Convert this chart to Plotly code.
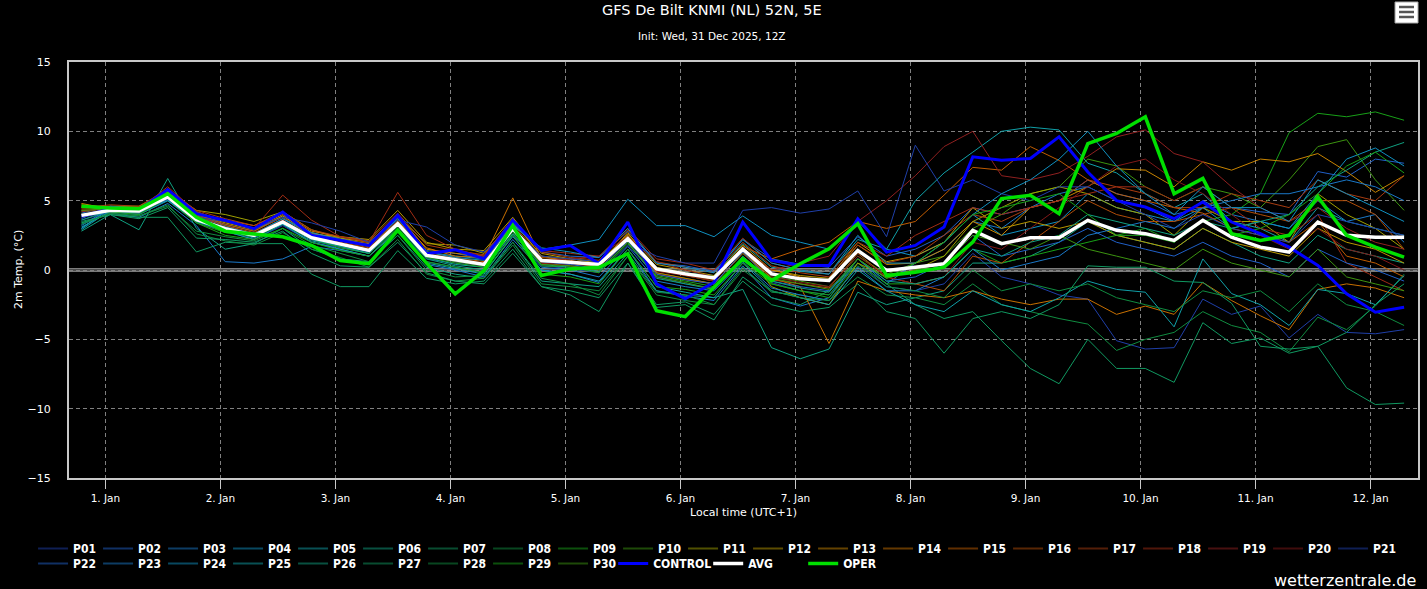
import pandas as pd
import plotly.graph_objects as go

# 6-hourly steps, local time (UTC+1), first step 31 Dec 19:00
TIMES = pd.date_range("2025-12-31 19:00", periods=47, freq="6h")

DAY_TICKS = ["2026-01-01", "2026-01-02", "2026-01-03", "2026-01-04", "2026-01-05", "2026-01-06",
             "2026-01-07", "2026-01-08", "2026-01-09", "2026-01-10", "2026-01-11", "2026-01-12"]
DAY_LABELS = ["1. Jan", "2. Jan", "3. Jan", "4. Jan", "5. Jan", "6. Jan",
              "7. Jan", "8. Jan", "9. Jan", "10. Jan", "11. Jan", "12. Jan"]

# ensemble members, 2m temperature (C)
P01 = [3.6,4.2,4.0,5.0,3.4,2.8,2.2,3.2,2.0,1.6,1.2,3.0,0.8, 0.5,0.2,2.6,0.3,0.1,-0.2,1.8,-0.5,-1.0,-1.3,0.9,-0.9,-1.5,-1.8,0.5,-1.2, -1.5,-1.0,1.2,-0.5,-1.0,-1.8,-2.1,-5.1,-5.7,-5.6,-2.1,-3.2,-2.6,-4.9,-3.2,-4.5,-4.6,-4.3]
P02 = [4.1,4.6,4.5,5.6,3.9,3.3,2.8,3.9,2.6,2.3,1.8,3.7,1.4, 1.2,0.8,3.4,1.3,1.0,0.9,2.8,0.5,0.3,-0.1,2.2,0.8,0.4,0.2,2.4,1.0, 1.5,2.5,4.5,4.0,4.5,5.0,6.5,5.5,5.0,4.0,4.5,4.5,4.2,4.0,7.1,6.7,8.0,7.7]
P03 = [3.3,4.1,3.8,4.8,3.2,0.6,0.5,0.8,1.7,1.4,1.0,2.8,0.4, 0.0,-0.5,2.2,0.0,-0.3,-0.9,1.5,-1.5,-1.9,-2.2,0.3,-2.0,-2.6,-2.0,0.8,-1.0, 0.5,1.5,3.5,3.0,4.5,5.5,6.0,5.0,4.5,3.5,5.0,4.0,3.5,3.0,5.0,3.5,4.0,2.0]
P04 = [3.0,4.4,4.2,5.2,3.8,3.2,2.6,3.7,2.5,2.1,1.7,3.5,1.3, 1.0,0.8,3.3,1.5,1.8,2.2,5.1,3.2,3.2,2.4,3.9,2.5,2.0,1.5,3.5,1.5, 1.0,2.0,4.0,2.5,3.0,3.5,5.5,4.5,4.0,3.5,4.5,3.0,3.5,3.0,5.5,8.0,8.8,7.5]
P05 = [2.9,4.3,4.1,5.1,3.5,2.9,2.3,3.4,2.1,1.7,1.2,3.2,0.9, 0.4,0.2,2.8,0.6,0.5,0.2,2.4,0.0,-0.2,-0.4,1.9,0.2,-0.1,-0.3,2.2,1.5, 5.0,7.0,8.5,10.0,10.3,10.1,7.7,7.0,5.5,4.5,5.5,3.5,3.0,2.0,4.5,3.5,3.0,2.5]
P06 = [2.8,4.0,2.9,6.6,3.0,1.5,1.9,3.0,1.5,0.8,0.6,2.5,0.2, -0.3,-0.6,2.0,-0.8,-1.0,-1.2,1.2,-1.5,-1.8,-2.0,-1.4,-5.6,-6.4,-5.7,-1.6,-2.5, -2.0,-1.5,0.5,0.5,1.0,2.0,3.5,2.5,2.0,1.5,3.0,2.0,1.0,0.5,2.5,1.5,1.0,0.5]
P07 = [3.5,4.0,3.8,3.8,1.3,2.0,1.9,1.9,-0.3,-1.2,-1.2,1.4,-0.6, -1.0,-0.8,1.5,-1.2,-1.5,-2.0,0.5,-2.7,-2.5,-3.6,-0.5,-2.0,-2.5,-1.5,0.5,-1.0, -2.5,-3.5,-3.0,-5.1,-7.1,-8.2,-5.0,-7.1,-7.1,-8.1,-3.8,-5.3,-4.9,-6.0,-5.5,-8.5,-9.7,-9.6]
P08 = [3.4,4.1,3.9,4.7,2.6,2.1,1.8,2.7,1.5,0.9,0.2,2.2,-0.3, -0.8,-0.6,1.8,-1.0,-1.2,-1.5,1.0,-1.8,-2.2,-2.5,0.2,-1.6,-1.8,-2.2,-0.5,-1.8, -2.0,-2.5,-1.0,-2.5,-3.0,-3.5,-3.9,-5.8,-5.0,-4.5,-3.0,-4.0,-4.5,-5.9,-3.4,-4.3,-2.6,-0.3]
P09 = [4.0,4.4,4.3,5.0,3.4,2.7,2.4,3.3,2.2,1.6,1.2,3.1,0.9, 0.5,0.2,2.7,0.3,0.2,-0.2,1.9,-0.4,-0.8,-1.2,0.9,-1.0,-1.5,-2.0,0.5,-1.0, -1.0,-0.5,1.5,0.5,1.0,1.5,2.0,2.5,3.0,2.0,3.5,4.0,5.5,9.9,11.3,11.05,11.4,10.8]
P10 = [4.2,4.5,4.4,5.4,3.7,3.1,2.6,3.5,2.4,1.9,1.5,3.4,1.1, 0.7,0.4,3.0,0.6,0.5,0.3,2.1,-0.2,-0.6,-1.0,1.2,-0.5,-0.8,-1.2,1.0,-0.3, 0.5,1.0,3.0,4.0,5.5,6.0,8.0,7.5,6.0,5.0,6.0,5.5,4.5,6.5,8.9,9.4,6.5,4.3]
P11 = [4.5,4.6,4.6,5.7,4.3,4.0,3.5,4.2,2.9,2.3,2.0,3.9,1.9, 1.8,1.2,3.5,1.0,0.8,0.6,2.5,0.2,-0.2,-0.5,1.6,-1.2,-2.0,-2.5,0.5,-0.5, 0.0,1.0,3.5,4.5,5.5,6.0,5.5,4.5,4.0,2.5,4.5,3.5,3.5,2.0,5.5,4.0,3.0,1.5]
P12 = [4.7,4.5,4.5,5.5,4.0,3.4,2.9,3.9,2.6,2.4,2.2,4.3,2.0, 1.5,1.4,3.8,1.2,0.8,0.5,2.6,0.4,0.0,-0.4,1.8,0.0,-0.4,-0.6,2.0,0.6, 1.0,2.0,4.5,3.0,3.5,3.0,3.5,2.5,2.0,1.5,3.0,2.0,1.5,1.0,3.0,2.0,1.5,0.5]
P13 = [4.8,4.4,4.4,5.6,4.2,3.5,3.0,4.0,2.7,2.2,1.9,4.0,1.5, 1.2,1.0,3.6,1.0,0.6,0.3,2.7,0.0,-0.4,-0.8,1.5,0.0,-0.5,-0.8,1.8,0.4, 0.5,1.5,3.5,2.5,4.5,5.0,6.0,7.3,7.2,6.0,7.8,7.2,8.0,7.8,8.4,7.1,5.6,6.8]
P14 = [4.6,4.3,4.2,5.4,4.1,3.6,3.2,4.1,2.8,2.4,2.0,3.8,1.6, 1.0,0.9,5.2,0.8,0.5,0.2,2.4,-0.2,-0.6,-1.0,1.3,-0.6,-1.2,-5.3,-0.8,-1.5, -1.8,-2.0,-1.5,-2.1,-2.5,-2.1,-2.1,-3.2,-2.6,-3.2,-0.9,-2.2,-3.3,-4.3,-1.4,-1.0,-1.3,-2.0]
P15 = [4.4,4.4,4.3,5.5,4.0,3.3,2.8,3.8,2.5,2.1,1.7,3.6,1.3, 0.9,0.6,3.3,0.9,0.7,0.3,2.5,0.1,-0.3,-0.7,1.7,0.8,1.5,2.0,3.5,3.0, 3.5,5.4,7.4,7.2,8.9,7.9,6.5,5.5,5.0,4.5,4.1,3.0,2.5,2.0,3.5,1.0,0.5,-0.5]
P16 = [4.3,4.2,4.1,5.2,3.9,3.2,2.7,3.6,2.4,2.0,1.6,3.5,1.2, 0.8,0.5,3.1,0.5,0.3,0.0,2.3,-0.3,-0.7,-1.0,1.2,-0.7,-1.0,-1.3,1.2,-0.5, -1.0,-1.5,1.0,0.5,2.0,3.5,5.0,4.0,3.5,3.5,4.0,4.5,4.0,3.5,5.0,5.0,4.0,1.5]
P17 = [4.5,4.7,4.6,5.8,4.3,3.7,3.2,4.2,2.9,2.4,2.1,4.1,1.8, 1.4,1.1,3.7,1.3,0.9,0.7,2.9,0.6,0.2,-0.2,2.0,0.3,-0.2,-0.5,1.8,0.5, 1.0,2.5,4.0,3.5,4.5,5.0,6.5,6.0,5.5,4.5,4.5,5.5,5.0,4.5,6.5,5.5,5.0,6.8]
P18 = [4.6,4.5,4.4,6.0,4.2,3.5,3.0,5.4,3.6,2.4,2.0,5.6,2.5, 1.5,1.0,3.6,1.4,1.2,1.0,3.0,0.8,0.5,0.0,2.3,0.5,0.0,-0.3,2.0,1.0, 2.5,3.5,4.5,4.0,4.5,5.0,5.5,6.0,6.0,5.0,6.0,4.5,3.0,2.5,4.0,0.5,-0.5,-1.5]
P19 = [4.2,4.5,4.4,5.5,3.8,3.1,2.6,3.6,2.3,1.9,1.5,3.4,1.1, 0.7,0.4,3.0,0.7,0.8,1.0,2.4,0.6,0.0,-0.5,1.6,0.0,0.5,1.0,3.5,5.0, 6.8,8.9,10.0,6.8,6.5,7.0,8.2,9.6,10.1,8.4,7.8,6.0,4.5,3.5,4.5,3.0,2.0,1.5]
P20 = [4.0,4.3,4.2,5.3,3.7,3.0,2.5,3.5,2.3,1.8,1.4,3.3,1.0, 0.6,0.3,2.9,0.5,0.4,0.2,2.2,-0.1,-0.4,-0.8,1.4,-0.5,-0.9,-1.2,1.0,-0.5, -1.0,-0.5,2.0,1.5,3.0,4.5,6.0,7.5,8.0,6.5,5.5,4.0,2.5,1.5,3.0,1.5,1.0,0.0]
P21 = [3.8,4.2,4.1,5.1,3.8,3.5,3.0,3.8,3.4,2.8,2.0,3.6,3.1, 1.8,1.3,3.0,1.0,0.8,0.6,2.0,1.0,0.5,0.5,4.3,4.5,4.1,4.4,5.7,2.4, 9.0,5.7,6.5,5.5,5.0,6.0,6.0,5.0,4.0,3.0,4.0,3.0,2.5,2.0,4.0,3.5,3.0,2.5]
P22 = [3.7,4.6,4.4,5.4,3.6,2.9,2.4,3.4,2.2,1.8,1.3,3.2,1.0, 0.6,0.3,2.9,0.6,0.4,0.1,2.1,-0.3,-0.7,-1.0,1.3,-0.8,-1.2,-1.5,0.8,-0.8, -0.5,0.5,2.5,1.0,1.5,2.0,3.0,2.0,1.5,1.0,2.0,1.0,0.5,-0.5,1.5,0.5,0.0,-0.8]
P23 = [3.2,4.5,4.4,5.0,3.6,3.0,2.6,3.3,2.0,1.5,1.0,2.9,0.6, 0.2,-0.2,2.4,0.2,0.0,-0.5,1.7,-0.8,-1.2,-1.5,0.6,-1.3,-1.8,-2.2,0.2,-1.5, -1.5,-0.5,1.5,0.0,0.5,1.0,2.5,3.0,3.5,3.0,4.5,5.0,5.5,5.5,6.0,6.5,6.0,5.0]
P24 = [3.0,4.5,4.2,5.4,3.7,3.1,2.6,3.7,2.7,2.2,1.8,3.7,1.3, 0.9,0.7,3.2,1.6,1.3,0.9,3.0,0.5,0.2,-0.2,2.2,0.5,0.0,-0.3,2.5,0.5, 0.5,2.0,4.0,5.5,6.5,8.0,10.0,7.5,5.5,4.0,6.0,4.5,4.5,3.5,6.5,5.5,4.5,3.5]
P25 = [3.1,4.2,4.0,5.0,3.5,2.8,2.2,3.3,2.0,1.5,1.0,3.0,0.5, 0.1,-0.3,2.5,0.0,-0.3,-0.8,1.5,-1.2,-1.6,-2.0,0.5,-1.5,-2.0,-2.5,0.0,-1.5, -2.5,-3.0,-1.5,-2.5,-3.0,-2.0,-0.8,-1.4,-1.6,-4.1,0.8,-1.7,-2.5,-4.0,-1.4,-1.7,-2.5,-0.4]
P26 = [3.6,4.3,4.1,5.2,3.5,2.9,2.4,3.5,2.2,1.7,1.2,3.2,0.8, 0.3,0.0,2.6,0.4,0.2,-0.1,2.0,-0.6,-1.0,-1.4,1.0,-0.8,-1.3,-1.6,0.8,-0.8, -1.0,-0.5,1.5,1.0,2.0,2.5,4.0,3.5,3.0,2.5,3.5,3.0,3.5,4.0,6.0,7.2,8.5,9.2]
P27 = [3.4,4.0,3.7,4.5,2.3,2.2,2.0,2.8,1.2,0.3,0.2,2.0,-0.2, -0.8,-1.0,1.2,-1.2,-1.8,-3.0,0.5,-2.5,-2.3,-3.2,-0.8,-2.5,-3.0,-2.7,-1.0,-3.0, -3.5,-6.0,-3.5,-3.0,-3.5,-2.5,0.3,0.2,0.2,-0.8,-0.9,-2.4,-5.5,-5.7,-5.5,-4.5,-2.5,-1.0]
P28 = [3.3,4.1,3.9,4.6,2.8,2.4,2.1,3.0,1.8,1.2,0.6,2.5,0.0, -0.5,-0.4,2.0,-0.6,-1.0,-1.8,1.0,-1.6,-1.8,-2.5,0.0,-1.5,-2.0,-2.2,0.3,-1.2, -1.5,-2.0,0.0,-1.5,-1.0,-1.5,-1.0,-2.0,-2.5,-3.0,-1.5,-2.0,-1.5,-3.0,-1.0,-2.5,-3.0,-4.0]
P29 = [4.0,4.2,4.0,5.2,3.4,2.5,2.2,3.0,2.0,1.4,1.0,3.0,0.6, 0.2,-0.2,2.5,-0.3,-0.5,-1.0,1.5,-1.2,-1.4,-1.8,0.5,-1.0,-1.5,-1.8,0.8,-0.6, 0.5,2.0,4.0,4.5,5.0,5.5,4.0,2.5,2.5,2.0,3.5,2.5,3.0,4.0,5.5,7.5,8.5,7.0]
P30 = [4.3,4.4,4.3,5.3,3.6,2.9,2.5,3.4,2.3,1.8,1.4,3.2,1.0, 0.6,0.3,2.9,0.4,0.3,0.0,2.0,-0.5,-0.9,-1.4,0.8,-0.6,-1.0,-1.4,0.8,-0.6, 0.0,0.5,2.5,2.0,1.5,2.5,1.5,1.0,0.5,0.0,1.5,0.5,0.0,-0.5,1.5,-0.5,-1.0,-1.5]

CONTROL = [3.9,4.4,4.35,5.8,4.06,3.58,2.98,4.18,2.5,2.13,1.77,3.94,1.17,
           1.46,0.81,3.58,1.41,1.77,0.45,3.46,-1.0,-2.08,-0.88,3.46,0.69,0.33,0.33,3.7,1.29,
           1.77,3.1,8.16,7.92,8.04,9.6,7.07,5.0,4.54,3.7,4.9,3.46,2.62,1.65,0.33,-1.72,-3.05,-2.69]
AVG = [3.94,4.3,4.25,5.27,3.63,2.98,2.5,3.46,2.33,1.9,1.41,3.34,1.05,
       0.74,0.4,2.98,0.69,0.56,0.4,2.26,0.08,-0.28,-0.57,1.5,-0.28,-0.64,-0.76,1.41,-0.04,
       0.2,0.45,2.86,1.9,2.33,2.33,3.58,2.86,2.62,2.13,3.58,2.37,1.65,1.29,3.46,2.5,2.37,2.37]
OPER = [4.6,4.47,4.42,5.5,3.8,2.8,2.6,2.4,1.77,0.69,0.45,2.86,0.5,
        -1.72,-0.04,3.2,-0.4,0.08,0.2,1.17,-2.93,-3.36,-1.24,0.8,-0.76,0.45,1.53,3.34,-0.4,
        -0.16,0.2,2.01,5.15,5.39,4.06,9.12,9.85,11.05,5.5,6.6,2.62,2.13,2.5,5.27,2.5,1.65,0.93]

MEMBERS = [P01, P02, P03, P04, P05, P06, P07, P08, P09, P10,
           P11, P12, P13, P14, P15, P16, P17, P18, P19, P20,
           P21, P22, P23, P24, P25, P26, P27, P28, P29, P30]
MEMBER_NAMES = ["P%02d" % (k + 1) for k in range(30)]

for nm, m in zip(MEMBER_NAMES, MEMBERS):
    assert len(m) == len(TIMES), (nm, len(m))

BASE_COLORS = ["#1f3fa8", "#2060c8", "#1a78c8", "#1090c0", "#10a0a8",
               "#10a080", "#109860", "#108c40", "#18a018", "#3c9410",
               "#a0a000", "#b89800", "#c88400", "#c87000", "#c05c00",
               "#b04c08", "#a83c10", "#a02c14", "#902020", "#801818"]
MEMBER_COLORS = BASE_COLORS + BASE_COLORS[:10]

FONT = "DejaVu Sans"
LEGEND_FONT = "Liberation Sans Narrow, DejaVu Sans Condensed, Liberation Sans, sans-serif"


def dim(hexcol, f=0.5):
    r, g, b = (int(hexcol[i:i + 2], 16) for i in (1, 3, 5))
    return "rgb(%d,%d,%d)" % (r * f, g * f, b * f)


# plot area in pixels: x 69..1420, y 62..478
def px_x(px):
    return (px - 69) / 1351.0


def px_y(py):
    return (478 - py) / 416.0


fig = go.Figure()

for nm, vals, col in zip(MEMBER_NAMES, MEMBERS, MEMBER_COLORS):
    fig.add_trace(go.Scatter(x=TIMES, y=vals, mode="lines", name=nm,
                             line=dict(color=col, width=1), showlegend=False))

# legend entries for members (legend symbols are drawn dimmed); row 1 and row 2
for k, (nm, col) in enumerate(zip(MEMBER_NAMES, MEMBER_COLORS)):
    fig.add_trace(go.Scatter(x=[None], y=[None], mode="lines", name=nm,
                             line=dict(color=dim(col), width=2),
                             legend="legend" if k < 21 else "legend3"))

fig.add_trace(go.Scatter(x=TIMES, y=CONTROL, mode="lines", name="CONTROL",
                         line=dict(color="#0000ff", width=3), legend="legend2"))
fig.add_trace(go.Scatter(x=TIMES, y=AVG, mode="lines", name="AVG",
                         line=dict(color="#ffffff", width=3.5), legend="legend2"))
fig.add_trace(go.Scatter(x=TIMES, y=OPER, mode="lines", name="OPER",
                         line=dict(color="#00e000", width=3.5), legend="legend2"))

shapes = [
    # zero line drawn as a thin double line
    dict(type="line", xref="paper", x0=0, x1=1, yref="y", y0=0.08, y1=0.08,
         line=dict(color="#c8c8c8", width=1), layer="between"),
    dict(type="line", xref="paper", x0=0, x1=1, yref="y", y0=-0.08, y1=-0.08,
         line=dict(color="#c8c8c8", width=1), layer="between"),
    # menu button
    dict(type="rect", xref="paper", yref="paper", x0=px_x(1397), x1=px_x(1420),
         y0=px_y(23), y1=px_y(2), fillcolor="#ffffff", line=dict(color="#aaaaaa", width=1)),
]
for yy in (7, 12, 17):
    shapes.append(dict(type="line", xref="paper", yref="paper", x0=px_x(1401), x1=px_x(1416),
                       y0=px_y(yy), y1=px_y(yy), line=dict(color="#555555", width=2.5)))

annotations = [
    dict(text="GFS De Bilt KNMI (NL) 52N, 5E", xref="paper", yref="paper",
         x=px_x(713), y=px_y(10), xanchor="center", yanchor="middle", showarrow=False,
         font=dict(family=FONT, size=14.5, color="#ffffff")),
    dict(text="Init: Wed, 31 Dec 2025, 12Z", xref="paper", yref="paper",
         x=px_x(713), y=px_y(36), xanchor="center", yanchor="middle", showarrow=False,
         font=dict(family=FONT, size=10.5, color="#ffffff")),
    dict(text="2m Temp. (°C)", xref="paper", yref="paper", textangle=-90,
         x=px_x(18), y=0.5, xanchor="center", yanchor="middle", showarrow=False,
         font=dict(family=FONT, size=11, color="#ffffff")),
    dict(text="Local time (UTC+1)", xref="paper", yref="paper",
         x=px_x(744), y=px_y(512), xanchor="center", yanchor="middle", showarrow=False,
         font=dict(family=FONT, size=11, color="#ffffff")),
    dict(text="wetterzentrale.de", xref="paper", yref="paper",
         x=px_x(1420), y=px_y(580), xanchor="right", yanchor="middle", showarrow=False,
         font=dict(family=FONT, size=16, color="#ffffff")),
]

grid = dict(showgrid=True, gridcolor="#808080", gridwidth=1, griddash="4px,3px",
            showline=True, linecolor="#c8c8c8", linewidth=2, mirror=True, zeroline=False)

legend_font = dict(family=LEGEND_FONT, size=12, color="#ffffff", weight="bold")

fig.update_layout(
    width=1427, height=589,
    margin=dict(l=69, r=7, t=62, b=111),
    paper_bgcolor="#000000", plot_bgcolor="#000000",
    font=dict(family=FONT, color="#ffffff"),
    xaxis=dict(type="date", range=["2025-12-31 16:24", "2026-01-12 09:54"],
               tickmode="array", tickvals=DAY_TICKS, ticktext=DAY_LABELS,
               ticks="outside", ticklen=9, tickcolor="#c8c8c8",
               tickfont=dict(family=FONT, size=10.5, color="#ffffff"), **grid),
    yaxis=dict(range=[-15, 15], tick0=0, dtick=5, ticks="", ticklabelstandoff=14,
               tickfont=dict(family=FONT, size=11, color="#ffffff"), **grid),
    showlegend=True,
    legend=dict(orientation="h", x=px_x(33), xanchor="left", y=px_y(534), yanchor="top",
                entrywidth=20, entrywidthmode="pixels", bgcolor="rgba(0,0,0,0)",
                font=legend_font),
    legend3=dict(orientation="h", x=px_x(33), xanchor="left", y=px_y(549), yanchor="top",
                 entrywidth=20, entrywidthmode="pixels", bgcolor="rgba(0,0,0,0)",
                 font=legend_font),
    legend2=dict(orientation="h", x=px_x(614), xanchor="left", y=px_y(549), yanchor="top",
                 entrywidth=50, entrywidthmode="pixels", bgcolor="rgba(0,0,0,0)",
                 font=legend_font),
    shapes=shapes,
    annotations=annotations,
    hovermode="closest",
)

fig.write_html("out.html", config={"displayModeBar": False},
               post_script="document.body.style.margin='0px';")
